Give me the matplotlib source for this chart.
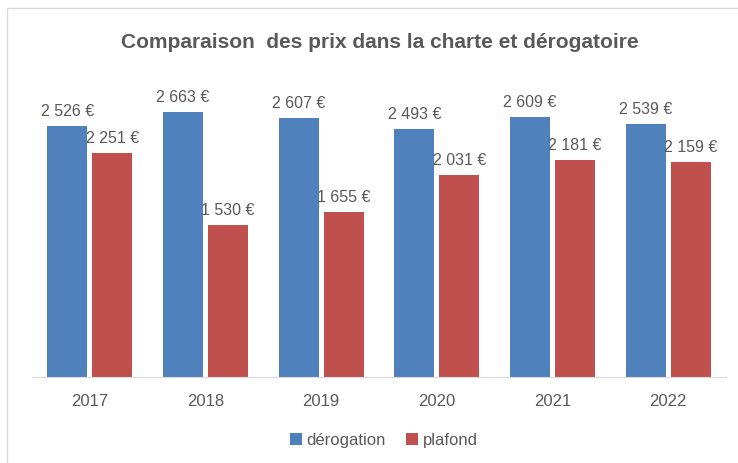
import matplotlib.pyplot as plt
import numpy as np
from matplotlib.patches import Rectangle

# Données du graphique
annees = ['2017', '2018', '2019', '2020', '2021', '2022']
derogation = [2526, 2663, 2607, 2493, 2609, 2539]
plafond = [2251, 1530, 1655, 2031, 2181, 2159]

plt.rcParams['font.family'] = ['Liberation Sans', 'DejaVu Sans']
texte = '#595959'

fig = plt.figure(figsize=(7.38, 4.63), dpi=100)
ax = fig.add_axes([32 / 738, (463 - 377) / 463, 694 / 738, 298.5 / 463])

x = np.arange(len(annees))
largeur = 0.345
b1 = ax.bar(x - 0.195, derogation, largeur, color='#4F81BD', label='dérogation')
b2 = ax.bar(x + 0.195, plafond, largeur, color='#C0504D', label='plafond')

def fmt(v):
    return f'{v:,}'.replace(',', ' ') + ' €'

for barres, valeurs in ((b1, derogation), (b2, plafond)):
    for b, v in zip(barres, valeurs):
        ax.annotate(fmt(v), (b.get_x() + b.get_width() / 2, v),
                    xytext=(0, 5), textcoords='offset points',
                    ha='center', va='bottom', fontsize=11.5, color=texte)

ax.set_xlim(-0.5, 5.5)
ax.set_ylim(0, 3000)
ax.set_yticks([])
ax.set_xticks(x)
ax.set_xticklabels(annees, fontsize=12, color=texte)
ax.tick_params(axis='x', length=0, pad=12)
for s in ['top', 'right', 'left']:
    ax.spines[s].set_visible(False)
ax.spines['bottom'].set_color('#D9D9D9')

fig.text(0.515, 1 - 42 / 463, 'Comparaison  des prix dans la charte et dérogatoire',
         ha='center', va='center', fontsize=15, fontweight='bold', color=texte)

fig.legend(loc='center', bbox_to_anchor=(0.52, 1 - 440 / 463), ncol=2, frameon=False,
           fontsize=12, handlelength=0.7, handleheight=0.7, handletextpad=0.3,
           columnspacing=1.2, labelcolor=texte)

# cadre du graphique
fig.patches.append(Rectangle((7 / 738, -0.01), 740 / 738, 1.01 - 8 / 463, transform=fig.transFigure,
                             fill=False, edgecolor='#D9D9D9', linewidth=1))

fig.savefig('out.png', dpi=100)
